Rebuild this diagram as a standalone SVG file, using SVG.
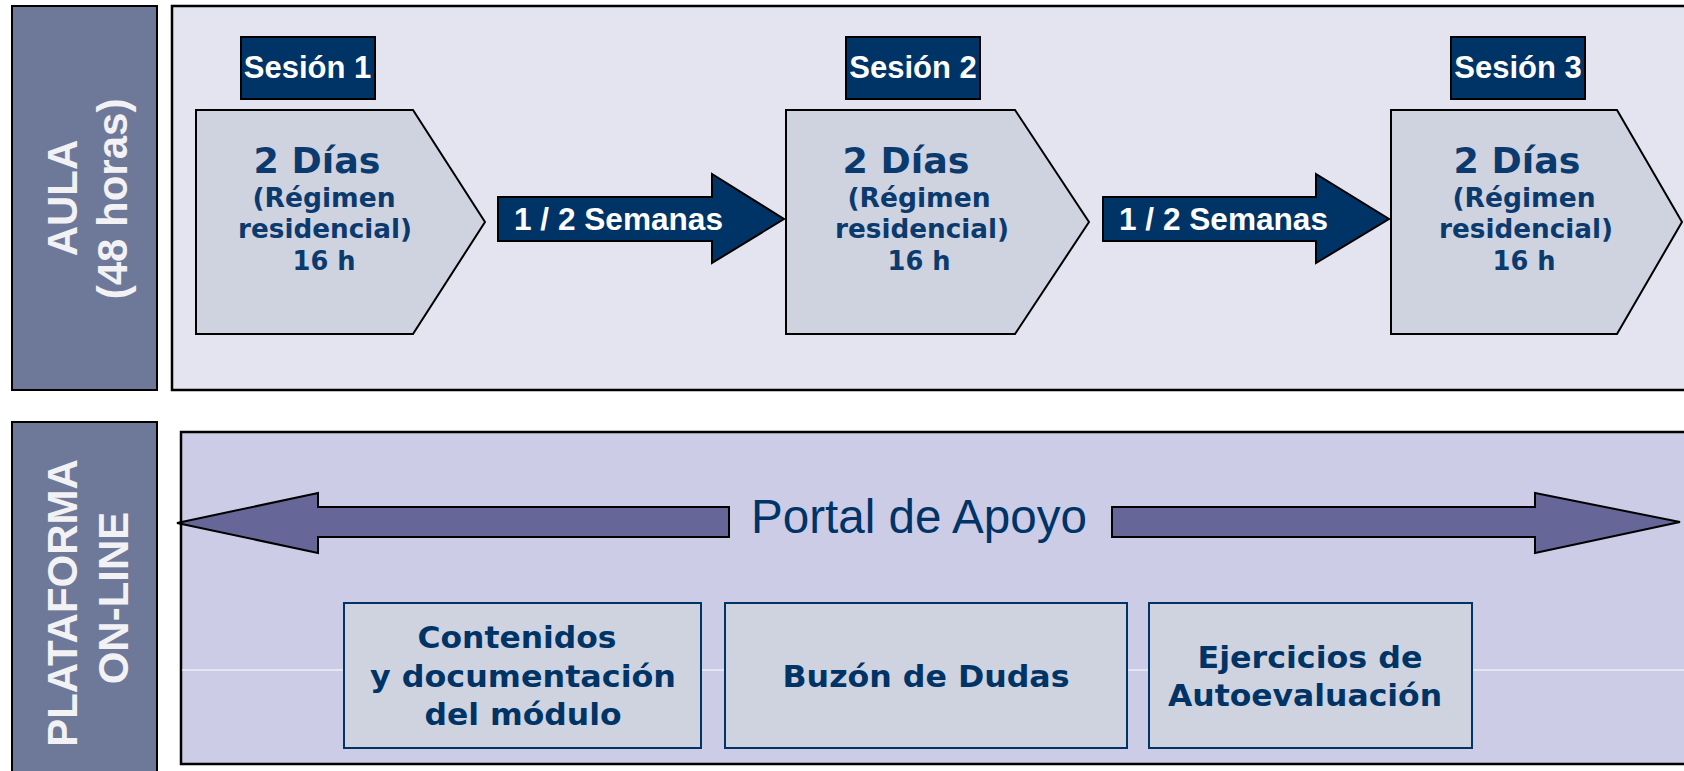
<svg xmlns="http://www.w3.org/2000/svg" width="1684" height="771" viewBox="0 0 1684 771">
<style>
.side{fill:#6e7899;stroke:#000;stroke-width:2}
.sidet{font-family:"Liberation Sans",Arial,sans-serif;font-weight:bold;font-size:42px;fill:#f2f2f4;text-anchor:middle}
.sess{fill:#003366;stroke:#000;stroke-width:2}
.sesst{font-family:"Liberation Sans",Arial,sans-serif;font-weight:bold;font-size:31px;fill:#fff;text-anchor:middle}
.pent{fill:#cfd2df;stroke:#000;stroke-width:2}
.pt{font-family:"DejaVu Sans",Verdana,sans-serif;font-weight:bold;fill:#0b3a6e;text-anchor:middle}
.big{font-size:36px}
.sm{font-size:26px}
.wk{fill:#003366;stroke:#000;stroke-width:2}
.wkt{font-family:"Liberation Sans",Arial,sans-serif;font-weight:bold;font-size:31.5px;fill:#fff;text-anchor:middle}
.dbl{fill:#666699;stroke:#000;stroke-width:2}
.sub{fill:#cfd3df;stroke:#003366;stroke-width:2}
.subt{font-family:"DejaVu Sans",Verdana,sans-serif;font-weight:bold;font-size:30px;fill:#003366;text-anchor:middle}
</style>

<g id="aula-label">
<rect class="side" x="12" y="6" width="145" height="384"/>
<text class="sidet" transform="translate(77,198) rotate(-90)">AULA</text>
<text class="sidet" transform="translate(127,199) rotate(-90)">(48 horas)</text>
</g>

<g id="aula-panel">
<rect x="172" y="6" width="1530" height="384" fill="#e4e4f0" stroke="#000" stroke-width="2.5"/>
</g>

<g id="plataforma-label">
<rect class="side" x="12" y="422" width="145" height="370"/>
<text class="sidet" transform="translate(77,603) rotate(-90)">PLATAFORMA</text>
<text class="sidet" transform="translate(128,598) rotate(-90)">ON-LINE</text>
</g>

<g id="plataforma-panel">
<rect x="181" y="432" width="1520" height="332" fill="#ccccE6" stroke="#000" stroke-width="2.5"/>
<line x1="182" y1="670" x2="1684" y2="670" stroke="#fff" stroke-width="1"/>
</g>

<g id="sesion1">
<rect class="sess" x="241" y="37" width="134" height="62"/>
<text class="sesst" x="307.5" y="78">Sesión 1</text>
</g>
<g id="sesion2">
<rect class="sess" x="846" y="37" width="134" height="62"/>
<text class="sesst" x="913" y="78">Sesión 2</text>
</g>
<g id="sesion3">
<rect class="sess" x="1451" y="37" width="134" height="62"/>
<text class="sesst" x="1518" y="78">Sesión 3</text>
</g>

<g id="bloque1">
<polygon class="pent" points="196,110 413,110 485,222 413,334 196,334"/>
<text class="pt big" x="317" y="173" textLength="127" lengthAdjust="spacingAndGlyphs">2 Días</text>
<text class="pt sm" x="324" y="207" textLength="143" lengthAdjust="spacingAndGlyphs">(Régimen</text>
<text class="pt sm" x="325" y="238" textLength="174" lengthAdjust="spacingAndGlyphs">residencial)</text>
<text class="pt sm" x="324" y="270" textLength="63" lengthAdjust="spacingAndGlyphs">16 h</text>
</g>
<g id="bloque2">
<polygon class="pent" points="786,110 1015,110 1089,222 1015,334 786,334"/>
<text class="pt big" x="906" y="173" textLength="127" lengthAdjust="spacingAndGlyphs">2 Días</text>
<text class="pt sm" x="919" y="207" textLength="143" lengthAdjust="spacingAndGlyphs">(Régimen</text>
<text class="pt sm" x="922" y="238" textLength="174" lengthAdjust="spacingAndGlyphs">residencial)</text>
<text class="pt sm" x="919" y="270" textLength="63" lengthAdjust="spacingAndGlyphs">16 h</text>
</g>
<g id="bloque3">
<polygon class="pent" points="1391,110 1617,110 1682,222 1617,334 1391,334"/>
<text class="pt big" x="1517" y="173" textLength="127" lengthAdjust="spacingAndGlyphs">2 Días</text>
<text class="pt sm" x="1524" y="207" textLength="143" lengthAdjust="spacingAndGlyphs">(Régimen</text>
<text class="pt sm" x="1526" y="238" textLength="174" lengthAdjust="spacingAndGlyphs">residencial)</text>
<text class="pt sm" x="1524" y="270" textLength="63" lengthAdjust="spacingAndGlyphs">16 h</text>
</g>

<g id="connectors">
<path class="wk" d="M498,197 H712 V174 L784,219 L712,263 V241 H498 Z"/>
<text class="wkt" x="618.5" y="230" textLength="209" lengthAdjust="spacingAndGlyphs">1 / 2 Semanas</text>
<path class="wk" d="M1103,197 H1316 V174 L1389,219 L1316,263 V241 H1103 Z"/>
<text class="wkt" x="1223.5" y="230" textLength="209" lengthAdjust="spacingAndGlyphs">1 / 2 Semanas</text>
<path class="dbl" d="M177,523 L318,493 V507 H729 V537 H318 V553 Z"/>
<path class="dbl" d="M1112,507 H1535 V493 L1680,522 L1535,553 V537 H1112 Z"/>
</g>

<g id="portal">
<text x="751" y="533" font-family="'Liberation Sans',Arial,sans-serif" font-size="48" fill="#003366" textLength="336" lengthAdjust="spacingAndGlyphs">Portal de Apoyo</text>
</g>

<g id="contenidos">
<rect class="sub" x="344" y="603" width="357" height="145"/>
<text class="subt" x="517" y="648" textLength="199" lengthAdjust="spacingAndGlyphs">Contenidos</text>
<text class="subt" x="523" y="687" textLength="306" lengthAdjust="spacingAndGlyphs">y documentación</text>
<text class="subt" x="523" y="725" textLength="197" lengthAdjust="spacingAndGlyphs">del módulo</text>
</g>
<g id="buzon">
<rect class="sub" x="725" y="603" width="402" height="145"/>
<text class="subt" x="926" y="687" textLength="287" lengthAdjust="spacingAndGlyphs">Buzón de Dudas</text>
</g>
<g id="ejercicios">
<rect class="sub" x="1149" y="603" width="323" height="145"/>
<text class="subt" x="1310" y="668" textLength="225" lengthAdjust="spacingAndGlyphs">Ejercicios de</text>
<text class="subt" x="1305" y="706" textLength="274" lengthAdjust="spacingAndGlyphs">Autoevaluación</text>
</g>
</svg>
